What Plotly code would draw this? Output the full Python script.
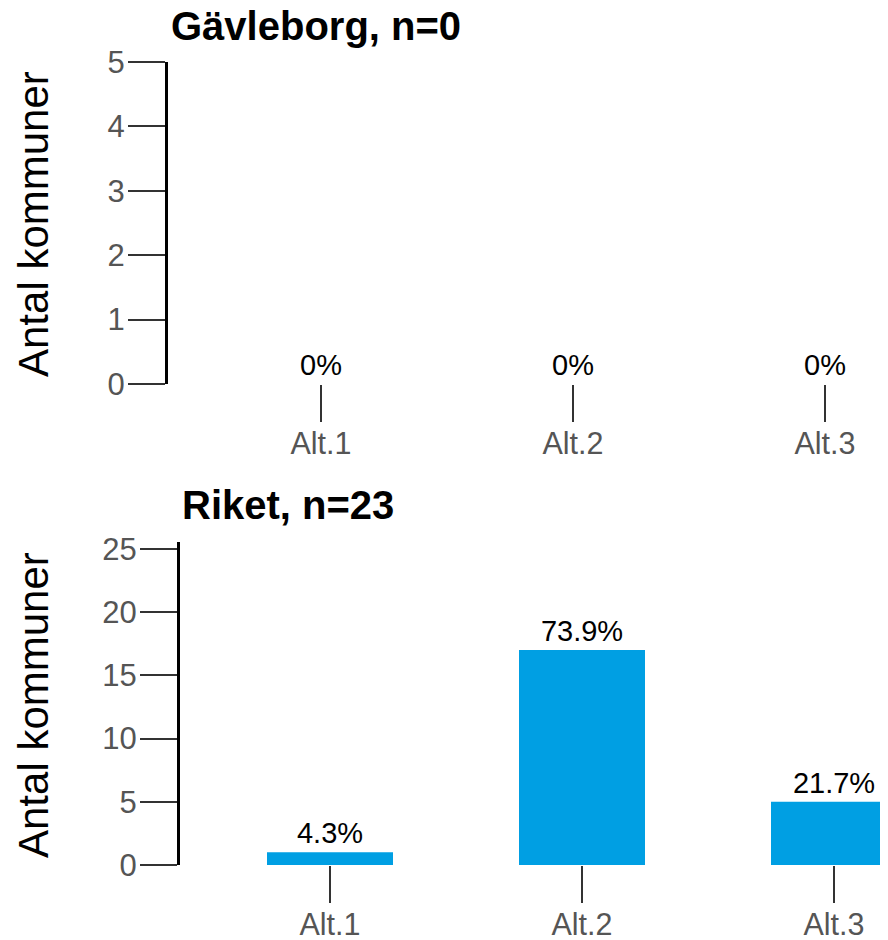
import plotly.graph_objects as go

categories = ["Alt.1", "Alt.2", "Alt.3"]
gavleborg_counts = [0, 0, 0]
riket_counts = [1, 17, 5]
panel_titles = ["Gävleborg", "Riket"]
y_title = "Antal kommuner"

# The page body has an 8px default margin; compensate so the photo matches 888x940
OFF = 8
W, H = 888, 940 - OFF
FONT = "Liberation Sans, Arial, sans-serif"
BAR_COLOR = "#009FE3"
TICK_COLOR = "#555555"


def pct_labels(vals):
    n = sum(vals)
    if n == 0:
        return ["0%" for _ in vals]
    return [f"{v / n * 100:.1f}%" for v in vals]


def px_x(p):
    return (p - OFF) / W


def px_y(p):
    return 1 - (p - OFF) / H


fig = go.Figure()
panels = [
    (gavleborg_counts, "x", "y"),
    (riket_counts, "x2", "y2"),
]
for vals, xa, ya in panels:
    fig.add_trace(go.Bar(
        x=categories, y=vals, xaxis=xa, yaxis=ya,
        marker=dict(color=BAR_COLOR, line=dict(width=0)),
        width=0.5,
        text=pct_labels(vals), textposition="outside",
        textfont=dict(family=FONT, size=29, color="#000000"),
        cliponaxis=False, showlegend=False, hoverinfo="skip",
    ))

# pixel geometry in reference image coordinates
top_y0, top_y1 = 62, 384
bot_y0, bot_y1 = 542, 865
top_xl, bot_xl = 168, 180
RIGHT = OFF + W  # right edge of plot area in page pixels
SP = 252  # category spacing in px

common_x = dict(
    showline=False, showgrid=False, zeroline=False, ticks="outside",
    ticklen=37, tickwidth=1.5, tickcolor="#333333",
    tickfont=dict(family=FONT, size=30.5, color=TICK_COLOR), automargin=False,
    type="category", ticklabelstandoff=-5,
)
common_y = dict(
    showline=True, linecolor="#000000", linewidth=3, showgrid=False, zeroline=False,
    ticks="outside", ticklen=37, tickwidth=1.5, tickcolor="#333333",
    tickfont=dict(family=FONT, size=31, color=TICK_COLOR), automargin=False,
    ticklabelstandoff=-3,
)

fig.update_layout(
    width=W, height=H,
    margin=dict(l=0, r=0, t=0, b=0),
    plot_bgcolor="white", paper_bgcolor="white",
    font=dict(family=FONT),
    xaxis=dict(common_x, domain=[px_x(top_xl), 1], range=[-(321 - top_xl) / SP, (RIGHT - 321) / SP], anchor="y"),
    yaxis=dict(common_y, domain=[px_y(top_y1), px_y(top_y0)], range=[0, 5], dtick=1, anchor="x"),
    xaxis2=dict(common_x, domain=[px_x(bot_xl), 1], range=[-(330 - bot_xl) / SP, (RIGHT - 330) / SP], anchor="y2"),
    yaxis2=dict(common_y, domain=[px_y(bot_y1), px_y(bot_y0)], range=[0, 25.55],
                tickvals=[0, 5, 10, 15, 20, 25], anchor="x2"),
)

# titles
for vals, name, xpix, ypix in [
    (gavleborg_counts, panel_titles[0], 169, 26),
    (riket_counts, panel_titles[1], 180, 505),
]:
    fig.add_annotation(
        text=f"<b>{name}, n={sum(vals)}</b>", xref="paper", yref="paper",
        x=px_x(xpix), y=px_y(ypix), xanchor="left", yanchor="middle",
        showarrow=False, font=dict(family=FONT, size=40, color="#000000"),
    )

# y-axis titles
for yc in [224, 705]:
    fig.add_annotation(
        text=y_title, xref="paper", yref="paper",
        x=px_x(33), y=px_y(yc), xanchor="center", yanchor="middle",
        textangle=-90, showarrow=False,
        font=dict(family=FONT, size=42, color="#000000"),
    )

fig.write_html("out.html")
